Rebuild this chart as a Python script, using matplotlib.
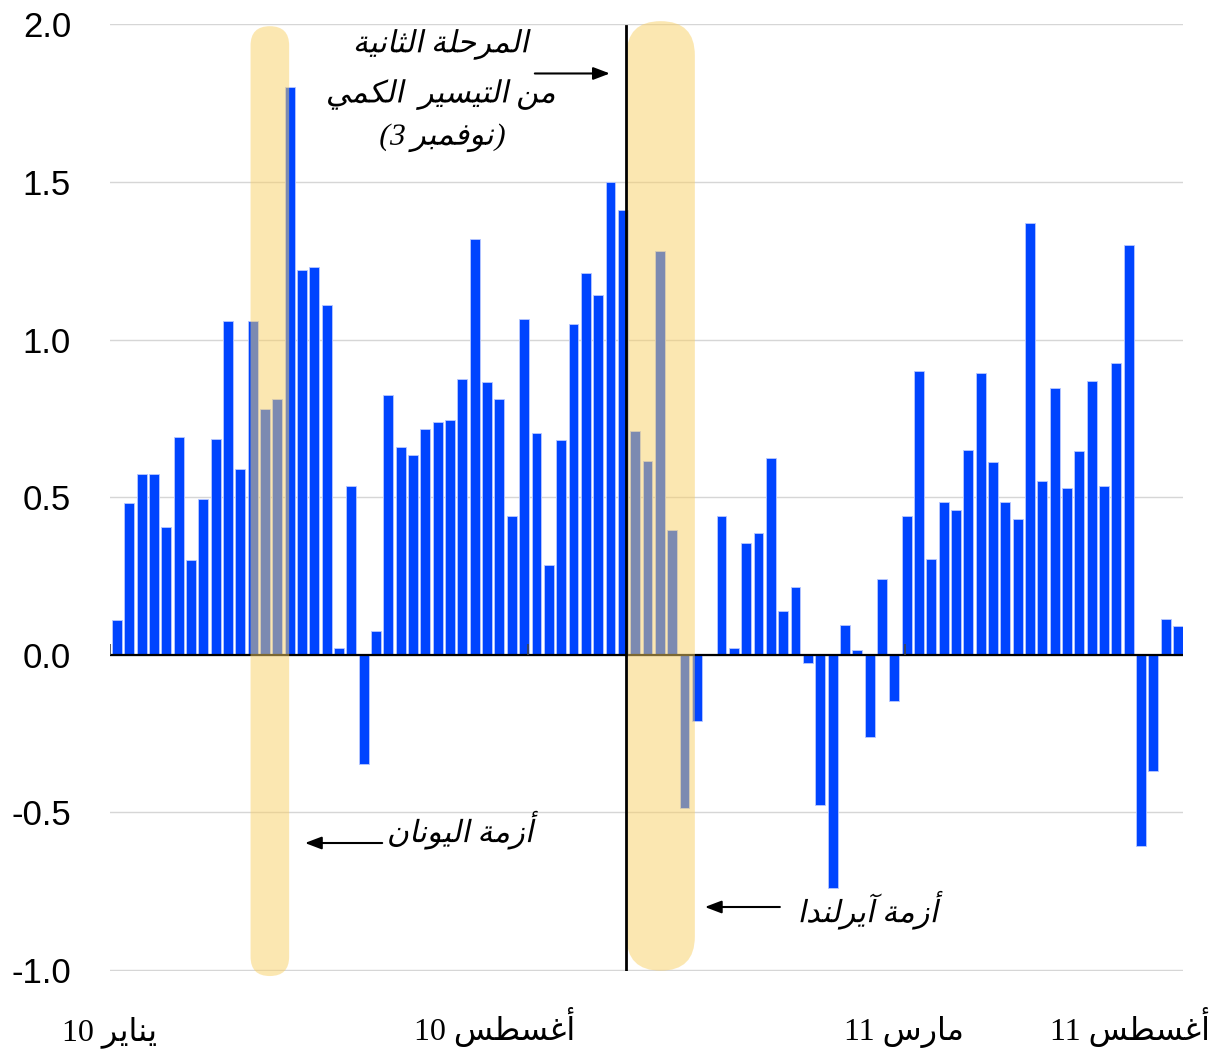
import numpy as np
import matplotlib.pyplot as plt
from matplotlib.patches import FancyBboxPatch
from matplotlib.patheffects import AbstractPathEffect
from matplotlib.transforms import Affine2D

# weekly values
values = [0.11, 0.48, 0.575, 0.575, 0.405, 0.69, 0.30, 0.495, 0.685, 1.06,
          0.59, 1.06, 0.78, 0.81, 1.80, 1.22, 1.23, 1.11, 0.02, 0.535,
          -0.345, 0.075, 0.825, 0.66, 0.635, 0.715, 0.74, 0.745, 0.875, 1.32,
          0.865, 0.81, 0.44, 1.065, 0.705, 0.285, 0.68, 1.05, 1.21, 1.14,
          1.50, 1.41, 0.71, 0.615, 1.28, 0.395, -0.485, -0.21, 0.0, 0.44,
          0.02, 0.355, 0.385, 0.625, 0.14, 0.215, -0.025, -0.475, -0.74, 0.095,
          0.015, -0.26, 0.24, -0.145, 0.44, 0.90, 0.305, 0.485, 0.46, 0.65,
          0.895, 0.61, 0.485, 0.43, 1.37, 0.55, 0.845, 0.53, 0.645, 0.87,
          0.535, 0.925, 1.30, -0.605, -0.37, 0.115, 0.09]

date_pos = [-0.57, 30.6, 63.8, 88.6]
date_align = ['center', 'center', 'center', 'right']
date_num = ['10', '10', '11', '11']
date_month = ['يناير', 'أغسطس', 'مارس', 'أغسطس']

yticks = [2.0, 1.5, 1.0, 0.5, 0.0, -0.5, -1.0]

# crisis bands (x start, x end) and QE2 line
greece = (10.83, 13.96)
ireland = (41.30, 46.84)
qe2 = 41.22


# matplotlib 3.10 does no Arabic shaping, so join the letters by hand
FORMS = {
    'ا': (0xFE8D, 2), 'أ': (0xFE83, 2), 'آ': (0xFE81, 2), 'ب': (0xFE8F, 4),
    'ة': (0xFE93, 2), 'ت': (0xFE95, 4), 'ث': (0xFE99, 4), 'ح': (0xFEA1, 4),
    'د': (0xFEA9, 2), 'ر': (0xFEAD, 2), 'ز': (0xFEAF, 2), 'س': (0xFEB1, 4),
    'ط': (0xFEC1, 4), 'غ': (0xFECD, 4), 'ف': (0xFED1, 4), 'ك': (0xFED9, 4),
    'ل': (0xFEDD, 4), 'م': (0xFEE1, 4), 'ن': (0xFEE5, 4), 'و': (0xFEED, 2),
    'ي': (0xFEF1, 4),
}


def shape(s):
    out = []
    for i, ch in enumerate(s):
        if ch not in FORMS:
            out.append(ch)
            continue
        base, n = FORMS[ch]
        prev = s[i - 1] if i > 0 else ''
        nxt = s[i + 1] if i + 1 < len(s) else ''
        jp = prev in FORMS and FORMS[prev][1] == 4
        jn = n == 4 and nxt in FORMS
        if jp and jn:
            out.append(chr(base + 3))
        elif jp:
            out.append(chr(base + 1))
        elif jn:
            out.append(chr(base + 2))
        else:
            out.append(chr(base))
    return ''.join(reversed(out))


class Slant(AbstractPathEffect):
    # fake italic: shear the glyph outlines
    def __init__(self, angle=12):
        super().__init__()
        self.t = Affine2D().skew_deg(angle, 0)

    def draw_path(self, renderer, gc, tpath, affine, rgbFace=None):
        renderer.draw_path(gc, tpath, self.t + affine, rgbFace)


fig = plt.figure(figsize=(12.14, 10.52), dpi=100)
ax = fig.add_axes([110 / 1214, 1 - 971 / 1052, 1073 / 1214, 946.7 / 1052])

x = np.arange(len(values))
ax.bar(x, values, width=0.8, color='#0044ff', edgecolor='#b8c8ff',
       linewidth=0.6, zorder=2)

ax.axhline(0, color='black', lw=1.6, zorder=3)
ax.vlines([-0.57, 33.3, 63.9], 0, 0.035, color='#444444', lw=1.2, zorder=3)

# capsule shaped bands, round in pixels
aspect = 12.34 / 315
for (x0, x1), y0, y1 in [(greece, -1.019, 1.994), (ireland, -1.002, 2.01)]:
    w = x1 - x0
    band = FancyBboxPatch((x0, y0), w, y1 - y0,
                          boxstyle='round,pad=0,rounding_size=%f' % (w / 2),
                          mutation_aspect=aspect, facecolor='#f9d065',
                          edgecolor='none', alpha=0.5, zorder=4, clip_on=False)
    ax.add_patch(band)

ax.plot([qe2, qe2], [-1.0, 1.994], color='black', lw=2, zorder=5)

ax.set_xlim(-0.56, 86.4)
ax.set_ylim(-1.003, 2.0)
ax.set_yticks(yticks)
ax.set_yticklabels(['%.1f' % v for v in yticks], fontsize=25,
                   family=['Liberation Sans', 'DejaVu Sans'])
ax.yaxis.grid(True, color='#d6d6d6', lw=1)
ax.set_axisbelow(True)
ax.tick_params(length=0)
ax.tick_params(axis='y', pad=28)
ax.set_xticks([])
for s in ax.spines.values():
    s.set_visible(False)

# date labels on a common baseline
for p, ha, n, m in zip(date_pos, date_align, date_num, date_month):
    ax.text(p, -1.222, n + ' ' + shape(m), ha=ha, va='baseline', fontsize=23,
            family=['Liberation Serif', 'DejaVu Sans'], clip_on=False)

slant = [Slant(12)]
note = dict(fontsize=22, color='black', ha='center', va='center',
            family=['Liberation Serif', 'DejaVu Sans'], path_effects=slant,
            zorder=6)
ax.text(26.26, 1.937, shape('المرحلة الثانية'), **note)
ax.text(26.26, 1.778, shape('من التيسير  الكمي'), **note)
ax.text(26.26, 1.641, '(3 ' + shape('نوفمبر') + ')', **note)
ax.text(27.8, -0.556, shape('أزمة اليونان'), **note)
ax.text(60.86, -0.81, shape('أزمة آيرلندا'), **note)

arrow = dict(arrowstyle='-|>,head_length=1.0,head_width=0.38', color='black',
             lw=1.5, shrinkA=0, shrinkB=0)
ax.annotate('', xy=(39.95, 1.844), xytext=(33.87, 1.844), arrowprops=arrow)
ax.annotate('', xy=(15.24, -0.597), xytext=(21.5, -0.597), arrowprops=arrow)
ax.annotate('', xy=(47.65, -0.80), xytext=(53.73, -0.80), arrowprops=arrow)

fig.savefig('out.png', dpi=100)
